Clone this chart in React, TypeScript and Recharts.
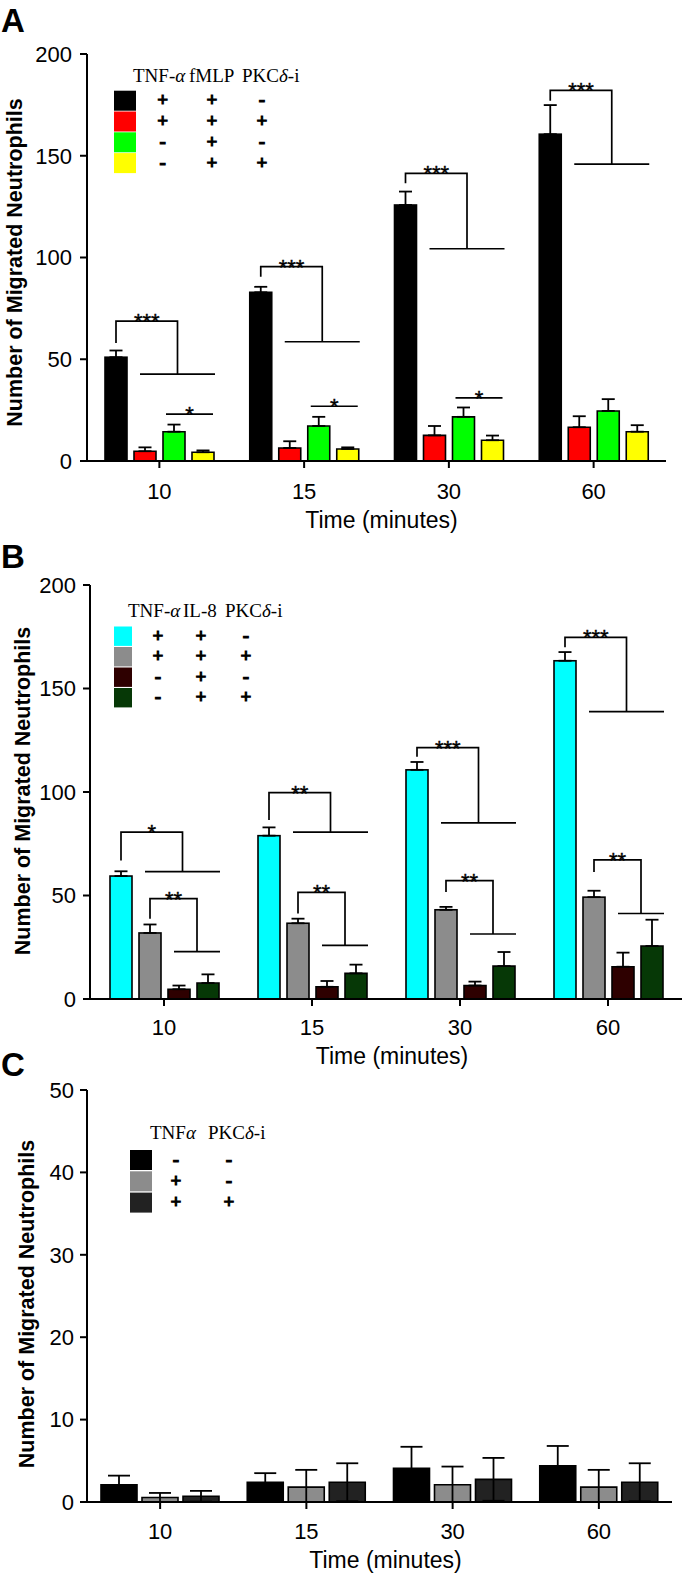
import React from 'react';
import { BarChart, Bar, XAxis, YAxis, ErrorBar, Legend, Label } from 'recharts';

const times = ['10', '15', '30', '60'];

// Panel A: TNF-α / fMLP / PKCδ-i
const aTnfFmlp = [51.0, 82.9, 125.8, 160.6];
const aTnfFmlpSem = [3.3, 2.7, 6.6, 14.3];
const aTnfFmlpPkc = [4.8, 6.4, 12.6, 16.6];
const aTnfFmlpPkcSem = [1.9, 3.3, 4.6, 5.4];
const aFmlp = [14.4, 17.2, 21.7, 24.6];
const aFmlpSem = [3.5, 4.5, 4.6, 5.8];
const aFmlpPkc = [4.3, 5.9, 10.2, 14.4];
const aFmlpPkcSem = [0.9, 0.8, 2.3, 3.2];
const aHeaders = ['TNF-α', 'fMLP', 'PKCδ-i'];
const aSigns = [['+', '+', '-'], ['+', '+', '+'], ['-', '+', '-'], ['-', '+', '+']];
const aBracketLeg = [58, 90.6, 136.5, 177];
const aBracketTop = [68.7, 95.5, 141.3, 182.1];
const aBracketDrop = [42.7, 58.6, 104.3, 145.9];
const aBracketStars = ['***', '***', '***', '***'];
const aStarLevel = [23, 26.9, 31, null];
const aStarLabel = ['*', '*', '*', ''];

// Panel B: TNF-α / IL-8 / PKCδ-i
const bTnfIl8 = [59.4, 78.9, 110.7, 163.4];
const bTnfIl8Sem = [2.3, 4.0, 3.8, 4.2];
const bTnfIl8Pkc = [31.9, 36.6, 43.1, 49.2];
const bTnfIl8PkcSem = [4.1, 2.2, 1.4, 3.1];
const bIl8 = [4.7, 5.9, 6.5, 15.6];
const bIl8Sem = [1.8, 2.8, 1.9, 6.8];
const bIl8Pkc = [7.7, 12.4, 15.9, 25.6];
const bIl8PkcSem = [4.2, 4.2, 6.8, 12.7];
const bHeaders = ['TNF-α', 'IL-8', 'PKCδ-i'];
const bSigns = [['+', '+', '-'], ['+', '+', '+'], ['-', '+', '-'], ['-', '+', '+']];
const bBracket1Leg = [66.9, 86.5, 117, 169.9];
const bBracket1Top = [80.6, 99.7, 121.4, 174.7];
const bBracket1Drop = [61.5, 80.6, 85.1, 138.8];
const bBracket1Stars = ['*', '**', '***', '***'];
const bBracket2Leg = [38.8, 41.3, 51.7, 61.4];
const bBracket2Top = [48.5, 51.5, 57.2, 67.2];
const bBracket2Drop = [22.9, 25.9, 31.4, 41.3];
const bBracket2Stars = ['**', '**', '**', '**'];

// Panel C: TNFα / PKCδ-i alone
const cControl = [2.1, 2.4, 4.1, 4.4];
const cControlSem = [1.1, 1.1, 2.6, 2.4];
const cTnf = [0.55, 1.8, 2.1, 1.8];
const cTnfSem = [0.55, 2.1, 2.2, 2.1];
const cTnfPkc = [0.7, 2.4, 2.75, 2.4];
const cTnfPkcSem = [0.65, 2.3, 2.6, 2.3];
const cHeaders = ['TNFα', 'PKCδ-i'];
const cSigns = [['-', '-'], ['+', '-'], ['+', '+']];

const FONT = "'Liberation Sans', Arial, Helvetica, sans-serif";
const SERIF = "'Liberation Serif', 'Times New Roman', Times, serif";

type Series = { key: string; name: string; color: string; values: number[]; sem: number[] };
type Bracket = { leg: number[]; top: number[]; drop: number[]; stars: string[]; from: number };
type StarLine = { level: (number | null)[]; stars: string[]; from: number };

function greek(s: string) {
  return s.split(/([αδ])/).map((p, i) =>
    p === 'α' || p === 'δ' ? <tspan key={i} fontStyle="italic">{p}</tspan> : <tspan key={i}>{p}</tspan>
  );
}

// bar rectangle plus significance brackets, measured from the bar's own geometry
function bracketShape(dataKey: string, barIdx: number, nBars: number, gap: number, bracket?: Bracket, starLine?: StarLine) {
  return (props: any) => {
    const { x, y, width, height, fill, index, payload } = props;
    const v = payload[dataKey];
    const base = y + height;
    const per = v ? height / v : 0;
    const py = (val: number) => base - val * per;
    const left = (k: number) => x + (k - barIdx) * (width + gap);
    const cx = x + width / 2;
    const ln = { stroke: '#000', strokeWidth: 1.7, fill: 'none' };
    const st = { fontFamily: FONT, fontSize: 22, textAnchor: 'middle' as const, fill: '#000', stroke: '#000', strokeWidth: 0.4 };
    let bEl = null;
    if (bracket) {
      const x1 = left(bracket.from) + 6;
      const x2 = left(nBars - 1) + width + 1;
      const xm = (x1 + x2) / 2;
      const yTop = py(bracket.top[index]);
      const yDrop = py(bracket.drop[index]);
      bEl = (
        <g>
          <path d={`M${cx},${py(bracket.leg[index])}V${yTop}H${xm}V${yDrop}`} {...ln} />
          <line x1={x1} x2={x2} y1={yDrop} y2={yDrop} {...ln} />
          <text x={(cx + xm) / 2} y={yTop + 8} {...st}>{bracket.stars[index]}</text>
        </g>
      );
    }
    let sEl = null;
    const lvl = starLine ? starLine.level[index] : null;
    if (starLine && lvl != null) {
      const x1 = left(starLine.from) + 3;
      const x2 = left(nBars - 1) + width - 1;
      const yl = py(lvl);
      sEl = (
        <g>
          <line x1={x1} x2={x2} y1={yl} y2={yl} {...ln} />
          <text x={(x1 + x2) / 2} y={yl + 8} {...st}>{starLine.stars[index]}</text>
        </g>
      );
    }
    return (
      <g>
        <rect x={x} y={y} width={width} height={height} fill={fill} stroke="#000" strokeWidth={1.6} />
        {bEl}
        {sEl}
      </g>
    );
  };
}

type LegendSpec = {
  headers: string[]; headerX: number[]; headerY: number;
  signs: string[][]; boxX: number; boxW: number; boxH: number; rowY: number; rowStep: number; colX: number[];
};

function legendContent(spec: LegendSpec, colors: string[]) {
  return () => (
    <svg width={320} height={240} style={{ display: 'block' }}>
      {spec.headers.map((h, i) => (
        <text key={i} x={spec.headerX[i]} y={spec.headerY} fontFamily={SERIF} fontSize={19} fill="#000">{greek(h)}</text>
      ))}
      {spec.signs.map((row, r) => {
        const top = spec.rowY + r * spec.rowStep;
        return (
          <g key={r}>
            <rect x={spec.boxX} y={top} width={spec.boxW} height={spec.boxH} fill={colors[r]} />
            {row.map((sg, c) => (
              <text key={c} x={spec.colX[c]} y={top + spec.boxH / 2 + 5.5} textAnchor="middle" fontFamily={SERIF} fontWeight="bold" fontSize={19} fill="#000" stroke="#000" strokeWidth={1.1}>{sg}</text>
            ))}
          </g>
        );
      })}
    </svg>
  );
}

type PanelProps = {
  top: number; height: number; margin: { top: number; right: number; bottom: number; left: number };
  yWidth: number; domain: [number, number]; ticks: number[]; barSize: number; barGap: number;
  series: Series[]; upperOnly: boolean; errWidth: number; xTickMargin: number; yTickMargin: number;
  yTitleX: number; yTitleShift: number; xTitleShift: number; xTitleBase: number;
  legend: LegendSpec; shapes: Record<string, any>;
};

function Panel(p: PanelProps) {
  const data = times.map((t, i) => {
    const row: any = { time: t };
    p.series.forEach((s) => {
      row[s.key] = s.values[i];
      // lower whisker never goes below the baseline
      row[s.key + 'Err'] = p.upperOnly ? [0, s.sem[i]] : [Math.min(s.sem[i], s.values[i]), s.sem[i]];
    });
    return row;
  });
  const axisStyle = { stroke: '#000', strokeWidth: 2 };
  const tickFont = { fill: '#000', fontSize: 22, fontFamily: FONT };
  return (
    <div style={{ position: 'absolute', left: 0, top: p.top }}>
      <BarChart width={683} height={p.height} data={data} margin={p.margin} barSize={p.barSize} barGap={p.barGap}>
        <XAxis dataKey="time" interval={0} axisLine={axisStyle} tickLine={axisStyle} tickSize={7} tickMargin={p.xTickMargin} tick={tickFont} height={70}>
          <Label
            content={(lp: any) => {
              const vb = lp.viewBox || {};
              return (
                <text x={vb.x + vb.width / 2 + p.xTitleShift} y={vb.y + p.xTitleBase} textAnchor="middle" fontFamily={FONT} fontSize={23} fill="#000">
                  Time (minutes)
                </text>
              );
            }}
          />
        </XAxis>
        <YAxis domain={p.domain} ticks={p.ticks} allowDataOverflow width={p.yWidth} axisLine={axisStyle} tickLine={axisStyle} tickSize={7} tickMargin={p.yTickMargin} tick={tickFont}>
          <Label
            content={(lp: any) => {
              const vb = lp.viewBox || {};
              const cy = vb.y + vb.height / 2 + p.yTitleShift;
              return (
                <text transform={`translate(${p.yTitleX},${cy}) rotate(-90)`} textAnchor="middle" dominantBaseline="central" fontFamily={FONT} fontWeight="bold" fontSize={21.5} fill="#000">
                  Number of Migrated Neutrophils
                </text>
              );
            }}
          />
        </YAxis>
        <Legend
          layout="vertical"
          align="center"
          verticalAlign="middle"
          wrapperStyle={{ left: 0, top: 0, width: 320, height: 240 }}
          content={legendContent(p.legend, p.series.map((s) => s.color))}
        />
        {p.series.map((s) => (
          <Bar key={s.key} dataKey={s.key} name={s.name} fill={s.color} stroke="#000" strokeWidth={1.6} isAnimationActive={false} shape={p.shapes[s.key]}>
            <ErrorBar dataKey={s.key + 'Err'} direction="y" width={p.errWidth} stroke="#000" strokeWidth={1.8} isAnimationActive={false} />
          </Bar>
        ))}
      </BarChart>
    </div>
  );
}

const seriesA: Series[] = [
  { key: 'a0', name: 'TNF-α + fMLP', color: '#000000', values: aTnfFmlp, sem: aTnfFmlpSem },
  { key: 'a1', name: 'TNF-α + fMLP + PKCδ-i', color: '#ff0000', values: aTnfFmlpPkc, sem: aTnfFmlpPkcSem },
  { key: 'a2', name: 'fMLP', color: '#00ff00', values: aFmlp, sem: aFmlpSem },
  { key: 'a3', name: 'fMLP + PKCδ-i', color: '#ffff00', values: aFmlpPkc, sem: aFmlpPkcSem },
];
const seriesB: Series[] = [
  { key: 'b0', name: 'TNF-α + IL-8', color: '#00ffff', values: bTnfIl8, sem: bTnfIl8Sem },
  { key: 'b1', name: 'TNF-α + IL-8 + PKCδ-i', color: '#8c8c8c', values: bTnfIl8Pkc, sem: bTnfIl8PkcSem },
  { key: 'b2', name: 'IL-8', color: '#2e0000', values: bIl8, sem: bIl8Sem },
  { key: 'b3', name: 'IL-8 + PKCδ-i', color: '#063806', values: bIl8Pkc, sem: bIl8PkcSem },
];
const seriesC: Series[] = [
  { key: 'c0', name: 'control', color: '#000000', values: cControl, sem: cControlSem },
  { key: 'c1', name: 'TNFα', color: '#8c8c8c', values: cTnf, sem: cTnfSem },
  { key: 'c2', name: 'TNFα + PKCδ-i', color: '#222222', values: cTnfPkc, sem: cTnfPkcSem },
];

const letterStyle: React.CSSProperties = {
  position: 'absolute', left: 1, fontFamily: FONT, fontWeight: 'bold', fontSize: 33, lineHeight: '33px', color: '#000',
};

export default function App() {
  return (
    <div style={{ position: 'absolute', left: 0, top: 0, width: 683, height: 1577, background: '#fff', overflow: 'hidden' }}>
      <Panel
        top={0} height={540} margin={{ top: 54, right: 17, bottom: 9, left: 0 }} yWidth={87}
        domain={[0, 200]} ticks={[0, 50, 100, 150, 200]} barSize={22} barGap={7}
        series={seriesA} upperOnly errWidth={6.5} xTickMargin={15} yTickMargin={8}
        yTitleX={15} yTitleShift={5} xTitleShift={5} xTitleBase={67}
        legend={{ headers: aHeaders, headerX: [133, 189, 242], headerY: 82, signs: aSigns, boxX: 114, boxW: 22, boxH: 20, rowY: 90.7, rowStep: 20.8, colX: [162.7, 212, 262] }}
        shapes={{
          a0: bracketShape('a0', 0, 4, 7,
            { leg: aBracketLeg, top: aBracketTop, drop: aBracketDrop, stars: aBracketStars, from: 1 },
            { level: aStarLevel, stars: aStarLabel, from: 2 }),
        }}
      />
      <Panel
        top={540} height={540} margin={{ top: 45, right: 1, bottom: 11, left: 0 }} yWidth={90}
        domain={[0, 200]} ticks={[0, 50, 100, 150, 200]} barSize={22} barGap={7}
        series={seriesB} upperOnly errWidth={6.5} xTickMargin={13} yTickMargin={7}
        yTitleX={23} yTitleShift={-1} xTitleShift={6} xTitleBase={64.5}
        legend={{ headers: bHeaders, headerX: [128, 183, 225], headerY: 77, signs: bSigns, boxX: 114, boxW: 18, boxH: 19.4, rowY: 86.5, rowStep: 20.5, colX: [158, 201, 246] }}
        shapes={{
          b0: bracketShape('b0', 0, 4, 7, { leg: bBracket1Leg, top: bBracket1Top, drop: bBracket1Drop, stars: bBracket1Stars, from: 1 }),
          b1: bracketShape('b1', 1, 4, 7, { leg: bBracket2Leg, top: bBracket2Top, drop: bBracket2Drop, stars: bBracket2Stars, from: 2 }),
        }}
      />
      <Panel
        top={1045} height={532} margin={{ top: 45, right: 11, bottom: 5, left: 0 }} yWidth={87}
        domain={[0, 50]} ticks={[0, 10, 20, 30, 40, 50]} barSize={36} barGap={5}
        series={seriesC} upperOnly={false} errWidth={11} xTickMargin={14} yTickMargin={6}
        yTitleX={27} yTitleShift={8} xTitleShift={6} xTitleBase={65.5}
        legend={{ headers: cHeaders, headerX: [150, 208], headerY: 93.5, signs: cSigns, boxX: 130, boxW: 22, boxH: 20, rowY: 105, rowStep: 21.3, colX: [176, 229] }}
        shapes={{}}
      />
      <div style={{ ...letterStyle, top: 4 }}>A</div>
      <div style={{ ...letterStyle, top: 540 }}>B</div>
      <div style={{ ...letterStyle, top: 1048 }}>C</div>
    </div>
  );
}
